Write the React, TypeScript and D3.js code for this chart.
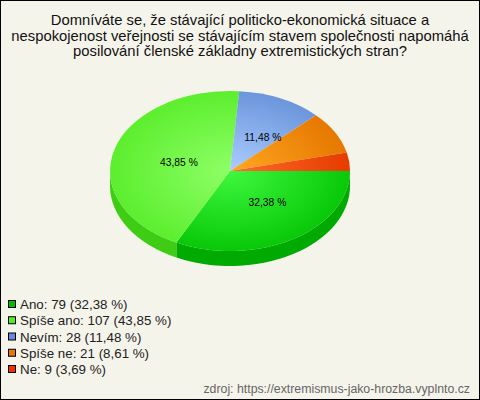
import React from "react";
import * as d3 from "d3";

const categories = ["Ano", "Spíše ano", "Nevím", "Spíše ne", "Ne"];
const counts = [79, 107, 28, 21, 9];
const percentLabels = ["32,38", "43,85", "11,48", "8,61", "3,69"];
const centerColors = ["#3ff83f", "#8eff66", "#aaccff", "#ffa822", "#ff6c2c"];
const edgeColors = ["#08c808", "#5cee2e", "#6c96dc", "#e67800", "#e63c00"];
const sideColors = ["#00aa00", "#3ecc14", "#5577bb", "#b85f00", "#b83000"];
const legendColors = ["#00bb00", "#55ee22", "#6688dd", "#ee7700", "#ee3300"];
const titleLines = [
  "Domníváte se, že stávající politicko-ekonomická situace a",
  "nespokojenost veřejnosti se stávajícím stavem společnosti napomáhá",
  "posilování členské základny extremistických stran?",
];
const source = "zdroj: https://extremismus-jako-hrozba.vyplnto.cz";

const W = 480, H = 400;
const cx = 230, cy = 171, rx = 120, ry = 80, depth = 15;
const FONT = "'Liberation Sans', Arial, sans-serif";
const yScale = ry / rx;
const labelNudge: ([number, number] | null)[] = [[9, 0], [1, 1], [10, -1], null, null];

export default function App() {
  const pie = d3.pie<number>().sort(null).startAngle(Math.PI / 2).endAngle(Math.PI * 2.5);
  const arcs = pie(counts);
  const arc = d3.arc<d3.PieArcDatum<number>>().innerRadius(0).outerRadius(rx);
  const labelArc = d3.arc<d3.PieArcDatum<number>>().innerRadius(rx * 0.45).outerRadius(rx * 0.45);
  const legendY = d3.scalePoint<string>().domain(categories).range([304.5, 369.5]);

  const side = (a0: number, a1: number) => {
    // canvas angles: 0 = east, clockwise; visible front is 0..PI
    const s = Math.max(a0 - Math.PI / 2, 0);
    const e = Math.min(a1 - Math.PI / 2, Math.PI);
    if (e <= s) return null;
    const off = depth / yScale;
    const p = d3.path();
    p.arc(0, 0, rx, s, e);
    p.arc(0, off, rx, e, s, true);
    p.closePath();
    return p.toString();
  };

  return (
    <svg width={W} height={H} style={{ position: "absolute", left: 0, top: 0, display: "block" }}>
      <defs>
        {categories.map((c, i) => (
          <radialGradient key={c} id={`g${i}`} gradientUnits="userSpaceOnUse" cx={0} cy={0} r={rx}>
            <stop offset="0" stopColor={centerColors[i]} />
            <stop offset="1" stopColor={edgeColors[i]} />
          </radialGradient>
        ))}
      </defs>
      <rect x={0.5} y={0.5} width={W - 1} height={H - 1} fill="#f5f4eb" stroke="#000" />
      <g fontFamily={FONT} fontSize={14.8} fill="#111" textAnchor="middle">
        {titleLines.map((t, i) => (
          <text key={t} x={240} y={25 + i * 15.5}>{t}</text>
        ))}
      </g>
      <g transform={`translate(${cx},${cy}) scale(1,${yScale})`}>
        {arcs.map((a, i) => {
          const d = side(a.startAngle, a.endAngle);
          return d ? <path key={i} d={d} fill={sideColors[i]} /> : null;
        })}
        {arcs.map((a, i) => (
          <path key={i} d={arc(a) || ""} fill={`url(#g${i})`} />
        ))}
      </g>
      <g fontFamily={FONT} fontSize={10.3} fill="#000" textAnchor="middle">
        {arcs.map((a, i) => {
          const n = labelNudge[i];
          if (!n) return null;
          const [x, y] = labelArc.centroid(a);
          return (
            <text key={i} x={cx + x + n[0]} y={cy + y * yScale + n[1] + 4}>
              {percentLabels[i]} %
            </text>
          );
        })}
      </g>
      <g fontFamily={FONT} fontSize={13.35} fill="#222">
        {categories.map((c, i) => {
          const y = legendY(c) as number;
          return (
            <g key={c}>
              <rect x={8.5} y={y - 4} width={7} height={7} fill={legendColors[i]} stroke="#000" />
              <text x={20} y={y + 4.5}>{`${c}: ${counts[i]} (${percentLabels[i]} %)`}</text>
            </g>
          );
        })}
      </g>
      <text x={470} y={393} fontFamily={FONT} fontSize={12.3} fill="#666" textAnchor="end">{source}</text>
    </svg>
  );
}
